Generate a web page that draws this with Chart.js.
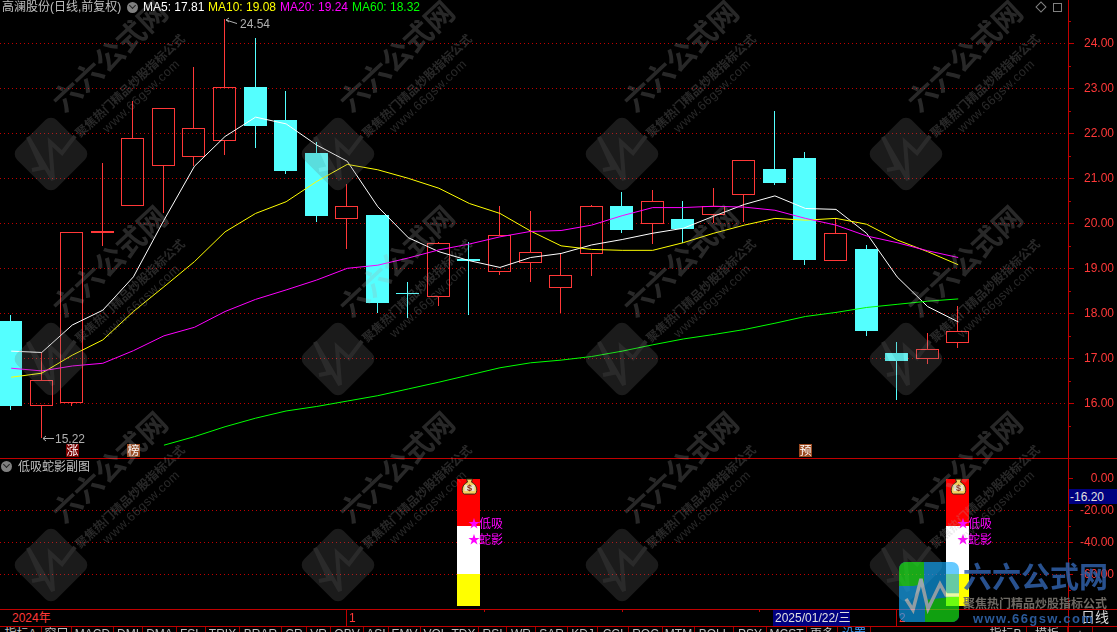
<!DOCTYPE html>
<html>
<head>
<meta charset="utf-8">
<title>高澜股份</title>
<script src="https://cdn.jsdelivr.net/npm/chart.js@4"></script>
<style>
    html, body { margin: 0; padding: 0; background: #000; }
    #stage { position: relative; width: 1117px; height: 632px; overflow: hidden; background: #000;
        font-family: "Liberation Sans", "Noto Sans CJK SC", sans-serif; font-size: 12px; color: #c0c0c0; }
    #stage canvas { position: absolute; left: 0; }
    #mainChart { top: 0; }
    #subChart { top: 459px; }
    .txt { position: absolute; white-space: nowrap; line-height: 14px; }
    .hline { position: absolute; left: 0; width: 1117px; height: 1px; background: #c00000; }
    .vline { position: absolute; width: 1px; background: #c00000; }
    .tab { position: absolute; top: 627px; height: 14px; line-height: 14px; text-align: center; border-right: 1px solid #a00000; box-sizing: border-box; color: #c0c0c0; }
    #overlay { position: absolute; left: 0; top: 0; pointer-events: none; }
    .coin { position: absolute; width: 11px; height: 11px; border-radius: 50%; background: #808080; }
    .coin::after { content: ""; position: absolute; left: 3px; top: 1px; width: 4px; height: 4px; border: solid #222; border-width: 0 1.5px 1.5px 0; transform: rotate(45deg); }
</style>
</head>
<body>
<div id="stage">
    <canvas id="mainChart" width="1117" height="458"></canvas>
    <canvas id="subChart" width="1117" height="150"></canvas>
    <div id="chrome"></div>
    <svg id="overlay" width="1117" height="632" xmlns="http://www.w3.org/2000/svg"></svg>
</div>

<script>
// candles, one entry per trading day
const open  = [17.83, 15.93, 16.00, 19.78, 20.39, 21.28, 21.48, 21.84, 23.04, 22.30, 21.56, 20.10, 20.18, 18.46, 18.36, 19.20, 18.91, 19.11, 18.56, 19.31, 20.39, 19.98, 20.09, 20.18, 20.64, 21.21, 21.45, 19.17, 19.43, 17.12, 16.99, 17.35];
const close = [15.95, 16.52, 19.80, 19.84, 21.89, 22.56, 22.11, 23.04, 22.17, 21.16, 20.16, 20.38, 18.24, 18.43, 19.56, 19.17, 19.73, 19.36, 18.86, 20.38, 19.86, 20.49, 19.87, 20.38, 21.40, 20.90, 19.18, 19.78, 17.61, 16.93, 17.20, 17.60];
const high  = [17.96, 17.13, 19.80, 21.33, 22.72, 22.56, 23.47, 24.54, 24.12, 22.94, 21.80, 20.87, 20.18, 18.70, 19.59, 19.59, 20.39, 20.27, 19.33, 20.41, 20.70, 20.74, 20.50, 20.78, 21.40, 22.50, 21.58, 20.11, 19.52, 17.36, 17.57, 18.16];
const low   = [15.85, 15.22, 15.93, 19.50, 20.39, 20.22, 21.28, 21.52, 21.68, 21.10, 20.04, 19.43, 18.01, 17.90, 18.17, 17.97, 18.85, 18.70, 18.00, 18.84, 19.79, 19.54, 19.57, 20.01, 20.04, 20.85, 19.07, 19.17, 17.50, 16.07, 16.87, 17.24];

const ma5  = [17.16, 17.13, 17.74, 18.07, 18.81, 20.07, 21.27, 21.93, 22.36, 22.21, 21.74, 21.38, 20.37, 19.68, 19.37, 19.17, 19.02, 19.24, 19.33, 19.52, 19.64, 19.78, 19.89, 20.16, 20.42, 20.61, 20.33, 20.31, 19.78, 18.81, 18.15, 17.81];
const ma10 = [16.58, 16.67, 17.07, 17.41, 18.04, 18.59, 19.15, 19.81, 20.22, 20.48, 20.93, 21.31, 21.19, 21.00, 20.78, 20.44, 20.22, 19.83, 19.50, 19.42, 19.40, 19.40, 19.57, 19.78, 19.96, 20.11, 20.07, 20.11, 19.98, 19.63, 19.37, 19.08];
const ma20 = [16.78, 16.72, 16.83, 16.89, 17.17, 17.50, 17.69, 18.04, 18.31, 18.52, 18.74, 19.00, 19.07, 19.23, 19.41, 19.54, 19.70, 19.82, 19.84, 19.96, 20.17, 20.35, 20.35, 20.38, 20.36, 20.29, 20.11, 19.96, 19.72, 19.57, 19.39, 19.24];
const ma60 = [null, null, null, null, null, 15.07, 15.26, 15.48, 15.67, 15.83, 15.93, 16.05, 16.17, 16.32, 16.47, 16.63, 16.79, 16.90, 16.96, 17.04, 17.16, 17.30, 17.43, 17.53, 17.64, 17.78, 17.93, 18.02, 18.13, 18.20, 18.27, 18.32];

const priceTicks = [16, 17, 18, 19, 20, 21, 22, 23, 24];
const priceMinorTicks = [15.5, 16.5, 17.5, 18.5, 19.5, 20.5, 21.5, 22.5, 23.5, 24.5];

// sub chart: the days where the signal fired and its three stacked blocks
const signalDays = [15, 31];
const redBlock = [0, -30];
const whiteBlock = [-30, -60];
const yellowBlock = [-60, -80];
const bagLevel = -5.5;
const signalLabels = ['低吸', '蛇影'];
const signalLevels = [-28, -38];

const subTicks = [0, -20, -40, -60];
const subMinorTicks = [-10, -30, -50, -70];

const badgeDays = [2, 4, 26];
const badgeTexts = ['涨', '榜', '预'];
const badgeColors = ['#7a0000', '#9c4a20', '#9c4a20'];

const highestDay = 7;
const lowestDay = 1;

const maNames = ['MA5', 'MA10', 'MA20', 'MA60'];
const maLast = ['17.81', '19.08', '19.24', '18.32'];
const maColors = ['#ffffff', '#ffff00', '#ff00ff', '#00ff00'];
const maLeft = [143, 208, 280, 352];

const tabLabels = ['指标A', '窗口', 'MACD', 'DMI', 'DMA', 'FSL', 'TRIX', 'BRAR', 'CR', 'VR', 'OBV', 'ASI', 'EMV', 'VOL-TDX', 'RSI', 'WR', 'SAR', 'KDJ', 'CCI', 'ROC', 'MTM', 'BOLL', 'PSY', 'MCST', '更多', '设置'];
const tabEdges = [0, 42, 72, 114, 143, 177, 206, 240, 282, 307, 331, 364, 389, 421, 479, 507, 536, 568, 598, 629, 663, 695, 734, 767, 807, 838, 871];
const rightTabLabels = ['指标B', '模板', '+'];
const rightTabEdges = [985, 1027, 1068, 1093];

const UP = '#ff3838';
const DOWN = '#54ffff';
const GRID = '#c00000';
const AXIS = '#c00000';
const CJK = '"Noto Sans CJK SC", sans-serif';

const days = open.map((_, i) => i);
const dayAxis = { type: 'linear', display: false, offset: false, min: -0.3666, max: 34.594, grid: { display: false } };

const points = values => days.map(i => ({ x: i, y: values[i] })).filter(p => p.y !== null);
const isUp = i => close[i] >= open[i];
const dayColors = days.map(i => (isUp(i) ? UP : DOWN));

function bars(label, ranges, thickness, extra) {
    return Object.assign({
        type: 'bar', label, order: 5, barThickness: thickness, grouped: false,
        inflateAmount: 0, borderSkipped: false, borderWidth: 0,
        data: ranges
    }, extra);
}

function maLine(label, values, color) {
    return { type: 'line', label, data: points(values), borderColor: color, borderWidth: 1, pointRadius: 0, tension: 0, order: 1 };
}

// keep bars on whole pixels, the original has no antialiasing on them
const snapBars = {
    id: 'snapBars',
    beforeDatasetsDraw(chart) {
        chart.data.datasets.forEach((ds, n) => {
            if (ds.type !== 'bar') return;
            chart.getDatasetMeta(n).data.forEach(el => {
                const half = el.width / 2;
                el.x = Math.floor(el.x - half) + half;
                el.y = Math.round(el.y);
                el.base = Math.round(el.base);
                if (ds.label === 'body' && el.y === el.base) el.base = el.y + 1;
            });
        });
    }
};

// short unlabelled ticks on the right axis
function minorTicks(values, length) {
    return {
        id: 'minorTicks',
        afterDraw(chart) {
            const ctx = chart.ctx;
            const scale = chart.scales.y;
            ctx.save();
            ctx.strokeStyle = AXIS;
            values.forEach(v => {
                const y = Math.round(scale.getPixelForValue(v)) + 0.5;
                ctx.beginPath();
                ctx.moveTo(scale.left, y);
                ctx.lineTo(scale.left + length, y);
                ctx.stroke();
            });
            ctx.restore();
        }
    };
}

const mainMarks = {
    id: 'mainMarks',
    afterDraw(chart) {
        const { ctx, scales: { x, y } } = chart;
        ctx.save();
        ctx.font = '12px "Liberation Sans"';
        ctx.textBaseline = 'middle';
        ctx.strokeStyle = '#b0b0b0';
        ctx.fillStyle = '#b0b0b0';

        // highest and lowest price flags
        const hx = Math.round(x.getPixelForValue(highestDay));
        const hy = y.getPixelForValue(high[highestDay]);
        ctx.beginPath();
        ctx.moveTo(hx + 12, hy + 4.5);
        ctx.lineTo(hx + 1, hy + 1);
        ctx.lineTo(hx + 4, hy - 1);
        ctx.moveTo(hx + 1, hy + 1);
        ctx.lineTo(hx + 4, hy + 3);
        ctx.stroke();
        ctx.fillText(high[highestDay].toFixed(2), hx + 15, hy + 6);

        const lx = Math.round(x.getPixelForValue(lowestDay));
        const ly = Math.round(y.getPixelForValue(low[lowestDay])) + 0.5;
        ctx.beginPath();
        ctx.moveTo(lx + 12, ly);
        ctx.lineTo(lx + 1, ly);
        ctx.moveTo(lx + 4, ly - 2.5);
        ctx.lineTo(lx + 1, ly);
        ctx.lineTo(lx + 4, ly + 2.5);
        ctx.stroke();
        ctx.fillText(low[lowestDay].toFixed(2), lx + 13, ly + 1);

        // event badges along the bottom edge
        ctx.font = '12px ' + CJK;
        ctx.textAlign = 'center';
        badgeDays.forEach((d, i) => {
            const bx = x.getPixelForValue(d);
            ctx.fillStyle = badgeColors[i];
            ctx.fillRect(Math.round(bx) - 6, 444, 13, 13);
            ctx.fillStyle = '#ffffff';
            ctx.fillText(badgeTexts[i], Math.round(bx) + 0.5, 450.5);
        });
        ctx.restore();
    }
};

function drawBag(ctx, cx, cy) {
    ctx.fillStyle = '#f2d060';
    ctx.strokeStyle = '#3a2a10';
    ctx.beginPath();
    ctx.moveTo(cx - 3, cy - 8);
    ctx.lineTo(cx + 3, cy - 8);
    ctx.lineTo(cx + 2, cy - 5);
    ctx.bezierCurveTo(cx + 9, cy - 2, cx + 8, cy + 7, cx + 5, cy + 7);
    ctx.lineTo(cx - 5, cy + 7);
    ctx.bezierCurveTo(cx - 8, cy + 7, cx - 9, cy - 2, cx - 2, cy - 5);
    ctx.closePath();
    ctx.fill();
    ctx.stroke();
    ctx.fillStyle = '#e8e8d0';
    ctx.fillRect(cx - 5, cy - 2, 10, 6);
    ctx.fillStyle = '#8a2a10';
    ctx.font = 'bold 9px "Liberation Sans"';
    ctx.textAlign = 'center';
    ctx.textBaseline = 'middle';
    ctx.fillText('$', cx, cy + 1);
}

const signalMarks = {
    id: 'signalMarks',
    afterDraw(chart) {
        const { ctx, scales: { x, y } } = chart;
        ctx.save();
        signalDays.forEach(d => {
            const cx = Math.round(x.getPixelForValue(d));
            drawBag(ctx, cx + 0.5, y.getPixelForValue(bagLevel));
            ctx.fillStyle = '#ff00ff';
            ctx.textBaseline = 'middle';
            signalLabels.forEach((text, i) => {
                const ly = y.getPixelForValue(signalLevels[i]);
                ctx.font = '12px ' + CJK;
                ctx.textAlign = 'center';
                ctx.fillText('★', cx + 5, ly);
                ctx.textAlign = 'left';
                ctx.fillText(text, cx + 10, ly);
            });
        });
        ctx.restore();
    }
};

function rightAxis(min, max, ticks, tickLength) {
    return {
        position: 'right', min, max,
        afterFit(scale) {
            scale.width = 46;
            // no room for half a label above and below, the panel runs edge to edge
            scale.paddingTop = 0;
            scale.paddingBottom = 0;
        },
        afterBuildTicks(scale) { scale.ticks = ticks.map(value => ({ value })); },
        grid: {
            color: c => (c.tick && c.tick.value === 0 ? 'transparent' : GRID),
            tickColor: AXIS, tickLength, lineWidth: 1
        },
        border: { color: AXIS, width: 1, dash: [1, 3] },
        ticks: {
            color: UP, padding: 4, crossAlign: 'far', autoSkip: false, maxRotation: 0,
            font: { family: '"Liberation Sans"', size: 12 },
            callback: v => v.toFixed(2)
        }
    };
}

const baseOptions = {
    responsive: false, animation: false,
    layout: { padding: { left: 0, top: 0, bottom: 0, right: 3 } },
    plugins: { legend: { display: false }, tooltip: { enabled: false } }
};

new Chart(document.getElementById('mainChart'), {
    data: {
        datasets: [
            bars('upperWick', days.map(i => ({ x: i, y: [Math.max(open[i], close[i]), high[i]] })), 1, { backgroundColor: dayColors }),
            bars('lowerWick', days.map(i => ({ x: i, y: [low[i], Math.min(open[i], close[i])] })), 1, { backgroundColor: dayColors }),
            bars('body', days.map(i => ({ x: i, y: [open[i], close[i]] })), 23, {
                backgroundColor: days.map(i => (isUp(i) ? 'transparent' : DOWN)),
                borderColor: dayColors,
                borderWidth: days.map(i => (isUp(i) ? 1 : 0)),
                order: 4
            }),
            maLine('MA60', ma60, maColors[3]),
            maLine('MA20', ma20, maColors[2]),
            maLine('MA10', ma10, maColors[1]),
            maLine('MA5', ma5, maColors[0])
        ]
    },
    options: Object.assign({}, baseOptions, {
        scales: { x: dayAxis, y: rightAxis(14.785, 24.963, priceTicks, 6) }
    }),
    plugins: [snapBars, minorTicks(priceMinorTicks, 3), mainMarks]
});

const signalBlock = (label, range, color) => bars(label, signalDays.map(d => ({ x: d, y: range })), 23, { backgroundColor: color });

new Chart(document.getElementById('subChart'), {
    data: {
        datasets: [
            signalBlock('red', redBlock, '#ff0000'),
            signalBlock('white', whiteBlock, '#ffffff'),
            signalBlock('yellow', yellowBlock, '#ffff00')
        ]
    },
    options: Object.assign({}, baseOptions, {
        scales: { x: dayAxis, y: rightAxis(-81.7, 12.06, subTicks, 5) }
    }),
    plugins: [snapBars, minorTicks(subMinorTicks, 3), signalMarks]
});

// title rows, date strip, tab strip
const chrome = document.getElementById('chrome');
function addText(text, left, top, color, extra) {
    const el = document.createElement('div');
    el.className = 'txt';
    el.textContent = text;
    el.style.left = left + 'px';
    el.style.top = top + 'px';
    if (color) el.style.color = color;
    if (extra) el.style.cssText += extra;
    chrome.appendChild(el);
    return el;
}
function addBox(className, css) {
    const el = document.createElement('div');
    el.className = className;
    el.style.cssText = css;
    chrome.appendChild(el);
    return el;
}

addText('高澜股份(日线,前复权)', 2, 0, '#c0c0c0');
addBox('coin', 'left:127px;top:2px;');
maNames.forEach((name, i) => addText(name + ': ' + maLast[i], maLeft[i], 0, maColors[i]));
addBox('', 'position:absolute;left:1037px;top:3px;width:6px;height:6px;border:1px solid #808080;transform:rotate(45deg);');
addBox('', 'position:absolute;left:1053px;top:3px;width:7px;height:7px;border:1px solid #808080;');

addBox('coin', 'left:1px;top:461px;');
addText('低吸蛇影副图', 18, 460, '#c0c0c0');

addBox('hline', 'top:458px;');
addBox('hline', 'top:609px;');
addBox('hline', 'top:626px;');
addBox('vline', 'left:1068px;top:0;height:632px;');

addText('2024年', 12, 611, UP);
addBox('vline', 'left:346px;top:609px;height:17px;');
addText('1', 349, 611, UP);
[484, 622, 759].forEach(x => addBox('vline', 'left:' + x + 'px;top:609px;height:3px;'));
addBox('', 'position:absolute;left:773px;top:610px;width:77px;height:16px;background:#000080;');
addText('2025/01/22/三', 775, 611, '#e0e0e0');
addBox('vline', 'left:896px;top:609px;height:17px;');
addText('2', 899, 611, UP);
addText('日线', 1081, 610, '#d8d8d8', 'font-size:14px;');

addBox('', 'position:absolute;left:1069px;top:489px;width:48px;height:15px;background:#000080;');
addText('-16.20', 1070, 490, '#e0e0e0');

tabLabels.forEach((label, i) => {
    const tab = addBox('tab', 'left:' + tabEdges[i] + 'px;width:' + (tabEdges[i + 1] - tabEdges[i]) + 'px;');
    tab.textContent = label;
    if (label === '设置') tab.style.color = '#40a0ff';
});
rightTabLabels.forEach((label, i) => {
    const tab = addBox('tab', 'left:' + rightTabEdges[i] + 'px;width:' + (rightTabEdges[i + 1] - rightTabEdges[i]) + 'px;');
    tab.textContent = label;
});

// site watermark, laid over the whole picture
const markCols = [51, 338, 622, 906];
const markRows = [154, 359, 565];
const font = 'font-family=\'"Noto Sans CJK SC"\'';
let svg = '';
markRows.forEach(my => markCols.forEach(mx => {
    svg += `<g transform="translate(${mx} ${my})" opacity="0.24" fill="#a8a8a8">
        <rect x="-28" y="-28" width="56" height="56" rx="8" transform="rotate(45)" fill="#707070"/>
        <polyline points="-19,16 -9,14 -23,-17 2,26 -1,-12 11,-1 24,-18" fill="none" stroke="#b0b0b0" stroke-width="4"/>
        <text transform="translate(66 -90) rotate(-43)" text-anchor="middle" ${font} font-size="29" font-weight="700">六六公式网</text>
        <text transform="translate(82 -65) rotate(-43)" text-anchor="middle" ${font} font-size="12" font-weight="700">聚焦热门精品炒股指标公式</text>
        <text transform="translate(93 -55) rotate(-43)" text-anchor="middle" font-family="Liberation Sans" font-size="12.5" letter-spacing="0.6">www.66gsw.com</text>
    </g>`;
}));
svg += `<g transform="translate(899 562)" opacity="0.64">
        <rect width="60" height="60" rx="7" fill="#10acff"/>
        <path d="M7,0 H25 V22 L14,24 L0,24 V7 A7,7 0 0 1 7,0 Z" fill="#19fa19"/>
        <path d="M26,38 L60,34 V53 A7,7 0 0 1 53,60 H26 Z" fill="#19fa19"/>
        <polyline points="7,37 14,48 22,17 29,47 41,22 47,33 60,33" fill="none" stroke="#e0f4ff" stroke-width="3.5"/>
    </g>
    <text x="963" y="588" ${font} font-size="29" font-weight="700" fill="#3060a8" opacity="0.85">六六公式网</text>
    <text x="963" y="608" ${font} font-size="12" font-weight="700" fill="#6e6a64">聚焦热门精品炒股指标公式</text>
    <text x="973" y="623" font-family="Liberation Sans" font-size="13" font-weight="700" letter-spacing="1.4" fill="#2a5a9a">www.66gsw.com</text>`;
document.getElementById('overlay').innerHTML = svg;
</script>
</body>
</html>
